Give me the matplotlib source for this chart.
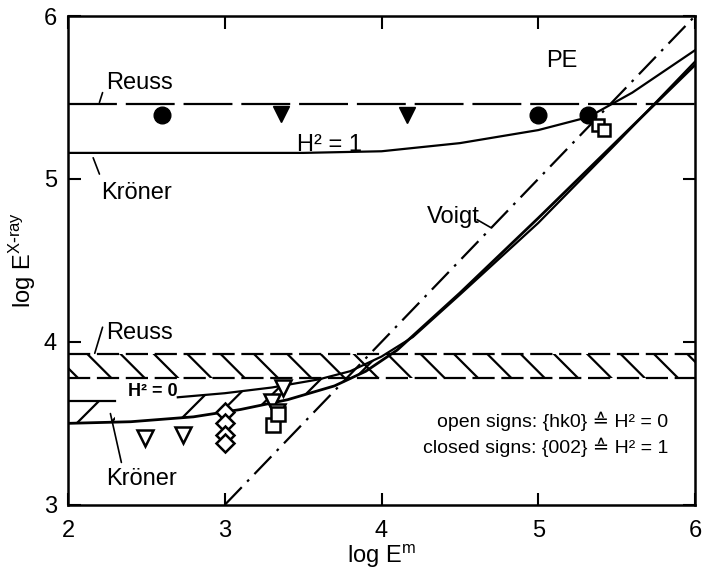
import numpy as np
import matplotlib.pyplot as plt

plt.rcParams['font.family'] = ['Liberation Sans', 'DejaVu Sans']
plt.rcParams['hatch.linewidth'] = 1.6

# Voigt bound: log E(x-ray) = log E(m)
voigt_x = [3.0, 6.0]
voigt_y = [3.0, 6.0]

# Reuss bounds
reuss_h1 = 5.46
reuss_h0_lo, reuss_h0_hi = 3.78, 3.925

# Kroener curve for H^2 = 1
kr1_x = [2.0, 3.0, 3.5, 4.0, 4.5, 5.0, 5.32, 5.6, 6.0]
kr1_y = [5.16, 5.16, 5.16, 5.17, 5.22, 5.30, 5.38, 5.53, 5.79]

# Kroener band for H^2 = 0 (lower and upper edge)
kr0_lo_x = [2.0, 2.4, 2.8, 3.1, 3.4, 3.7, 3.9, 4.1, 4.5, 5.0, 5.5, 6.0]
kr0_lo_y = [3.50, 3.51, 3.54, 3.585, 3.645, 3.73, 3.82, 3.95, 4.30, 4.76, 5.23, 5.70]
kr0_hi_x = [2.7, 3.0, 3.3, 3.6, 3.8, 4.0, 4.2, 4.5, 5.0, 5.5, 6.0]
kr0_hi_y = [3.66, 3.685, 3.72, 3.77, 3.82, 3.91, 4.03, 4.29, 4.73, 5.22, 5.72]
# small hatched block at the left edge
block_x = [2.0, 2.3]
block_lo, block_hi = 3.50, 3.64

# measured points, closed signs (002) -> H^2 = 1
pe_circ_x = [2.60, 5.00, 5.32]
pe_circ_y = [5.39, 5.39, 5.39]
pe_tri_x = [3.36, 4.16]
pe_tri_y = [5.40, 5.39]
# open signs (hk0) -> H^2 = 0
hk0_sq_hi_x = [5.38, 5.42]
hk0_sq_hi_y = [5.33, 5.30]
hk0_tri_x = [2.49, 2.73, 3.37, 3.30, 3.33]
hk0_tri_y = [3.41, 3.43, 3.72, 3.63, 3.57]
hk0_dia_x = [3.0, 3.0, 3.0, 3.0]
hk0_dia_y = [3.57, 3.50, 3.43, 3.38]
hk0_sq_x = [3.31, 3.34]
hk0_sq_y = [3.49, 3.56]

fig = plt.figure(figsize=(7.02, 5.73), dpi=100)
ax = fig.add_axes([0.097, 0.119, 0.893, 0.853])

lw = 1.6
# Voigt
ax.plot(voigt_x, voigt_y, color='black', lw=lw, dashes=(11, 3.5, 1.2, 3.5))
# Reuss H^2 = 1
ax.axhline(reuss_h1, color='black', lw=lw, dashes=(22, 4))
# Reuss H^2 = 0 band
ax.fill_between([2, 6], reuss_h0_lo, reuss_h0_hi, facecolor='none',
                edgecolor='black', hatch='\\', lw=0)
ax.axhline(reuss_h0_lo, color='black', lw=lw, dashes=(10, 3))
ax.axhline(reuss_h0_hi, color='black', lw=lw, dashes=(10, 3))

# Kroener H^2 = 1
ax.plot(kr1_x, kr1_y, color='black', lw=lw)

# Kroener H^2 = 0 band
xx = np.linspace(2.7, 4.15, 200)
lo = np.interp(xx, kr0_lo_x, kr0_lo_y)
hi = np.interp(xx, kr0_hi_x, kr0_hi_y)
ax.fill_between(xx, lo, hi, where=hi > lo, facecolor='none', edgecolor='black',
                hatch='/', lw=0)
ax.fill_between(block_x, block_lo, block_hi, facecolor='none', edgecolor='black',
                hatch='/', lw=0)
ax.plot(block_x, [block_hi, block_hi], color='black', lw=lw)
ax.plot(kr0_lo_x, kr0_lo_y, color='black', lw=lw + 0.4)
ax.plot(kr0_hi_x, kr0_hi_y, color='black', lw=lw)

# data points
mk = dict(ls='none', color='black', zorder=5)
ax.plot(pe_circ_x, pe_circ_y, 'o', ms=12, **mk)
ax.plot(pe_tri_x, pe_tri_y, 'v', ms=11, **mk)
op = dict(ls='none', mfc='white', mec='black', mew=1.8, zorder=5)
ax.plot(hk0_sq_hi_x, hk0_sq_hi_y, 's', ms=9, **op)
ax.plot(hk0_tri_x, hk0_tri_y, 'v', ms=11, **op)
ax.plot(hk0_dia_x, hk0_dia_y, 'D', ms=9, **op)
ax.plot(hk0_sq_x, hk0_sq_y, 's', ms=10, **op)

# labels with leader lines
fs = 17
ax.text(2.24, 5.555, 'Reuss', fontsize=fs)
ax.annotate('', xy=(2.20, 5.47), xytext=(2.22, 5.53),
            arrowprops=dict(arrowstyle='-', lw=1.2, shrinkA=0, shrinkB=0))
ax.text(2.21, 4.88, 'Kröner', fontsize=fs)
ax.annotate('', xy=(2.16, 5.13), xytext=(2.20, 5.03),
            arrowprops=dict(arrowstyle='-', lw=1.2, shrinkA=0, shrinkB=0))
ax.text(5.05, 5.69, 'PE', fontsize=fs)
ax.text(3.46, 5.17, 'H² = 1', fontsize=fs)
ax.text(4.29, 4.73, 'Voigt', fontsize=fs)
ax.annotate('', xy=(4.70, 4.70), xytext=(4.61, 4.75),
            arrowprops=dict(arrowstyle='-', lw=1.2, shrinkA=0, shrinkB=0))
ax.text(2.24, 4.02, 'Reuss', fontsize=fs)
ax.annotate('', xy=(2.17, 3.93), xytext=(2.22, 4.09),
            arrowprops=dict(arrowstyle='-', lw=1.2, shrinkA=0, shrinkB=0))
ax.text(2.38, 3.665, 'H² = 0', fontsize=13, fontweight='bold')
ax.text(2.24, 3.12, 'Kröner', fontsize=fs)
ax.annotate('', xy=(2.27, 3.56), xytext=(2.34, 3.26),
            arrowprops=dict(arrowstyle='-', lw=1.2, shrinkA=0, shrinkB=0))

ax.text(5.83, 3.48, 'open signs: {hk0} ≙ H² = 0', fontsize=14, ha='right')
ax.text(5.83, 3.32, 'closed signs: {002} ≙ H² = 1', fontsize=14, ha='right')

ax.set_xlim(2, 6)
ax.set_ylim(3, 6)
ax.set_xticks([2, 3, 4, 5, 6])
ax.set_yticks([3, 4, 5, 6])
ax.tick_params(direction='in', length=9, width=1.5, top=True, right=True,
               labelsize=17)
ax.tick_params(axis='x', pad=11)
ax.tick_params(axis='y', pad=8)
for s in ax.spines.values():
    s.set_linewidth(1.8)
ax.set_xlabel(r'log E$^{\mathregular{m}}$', fontsize=17, labelpad=0)
ax.set_ylabel(r'log E$^{\mathregular{X\text{-}ray}}$', fontsize=17, labelpad=4)

fig.savefig('out.png', dpi=100)
